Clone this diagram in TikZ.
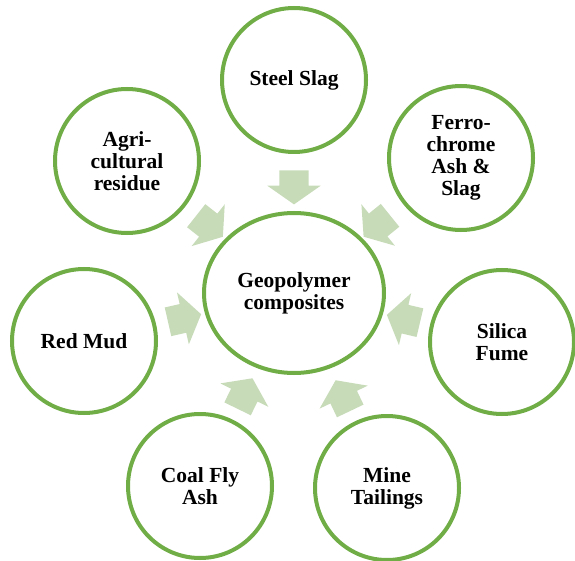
\documentclass[tikz,border=0pt]{standalone}
\usepackage{fontspec}
\setmainfont{Liberation Serif}
\usetikzlibrary{shapes.geometric,shapes.arrows}
\definecolor{ringgreen}{RGB}{112,173,71}
\definecolor{feedgreen}{RGB}{199,219,184}
\tikzset{
    ring/.style={circle, draw=ringgreen, line width=4pt, minimum size=144pt,
        inner sep=0pt, align=center, font=\fontsize{21.5}{22}\selectfont\bfseries},
    feed/.style={single arrow, fill=feedgreen, minimum height=34pt, inner xsep=0pt,
        inner ysep=14.5pt, single arrow head extend=12pt, single arrow tip angle=110}
}
\begin{document}
\begin{tikzpicture}[x=1pt, y=-1pt]
    \useasboundingbox (0,0) rectangle (575,561);
    \node[ring, ellipse, minimum width=180pt, minimum height=160pt] (geo) at (294,293) {Geopolymer\\composites};
    \node[ring] (steel) at (294,80) {Steel Slag};
    \node[ring] (ferro) at (461,158) {Ferro-\\chrome\\Ash \&\\Slag};
    \node[ring] (silica) at (502,342) {Silica\\Fume};
    \node[ring] (mine) at (387,488) {Mine\\Tailings};
    \node[ring] (coal) at (200,486) {Coal Fly\\Ash};
    \node[ring] (redmud) at (84,341) {Red Mud};
    \node[ring] (agri) at (127,161) {Agri-\\cultural\\residue};
    \foreach \src/\where in {
        steel/0.48, ferro/0.48, silica/0.45, mine/0.45, coal/0.455, redmud/0.455, agri/0.47
    } {
        \path (\src.center) -- (geo.center) node[feed, pos=\where, sloped, allow upside down] (to\src) {};
    }
\end{tikzpicture}
\end{document}
